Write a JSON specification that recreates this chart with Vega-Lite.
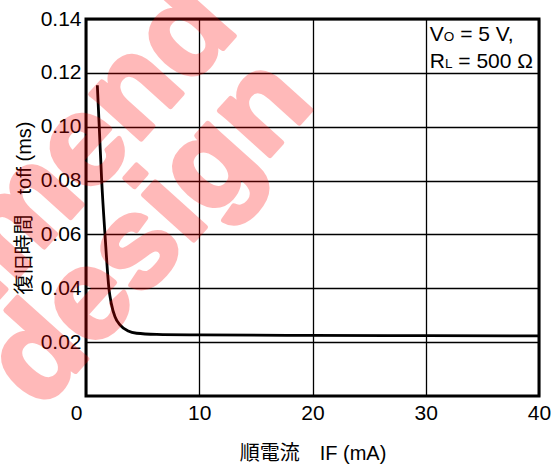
{
  "$schema": "https://vega.github.io/schema/vega-lite/v6.json",
  "width": 453,
  "height": 377,
  "autosize": {"type": "none"},
  "padding": {"left": 86, "top": 19, "right": 13, "bottom": 72},
  "background": "white",
  "config": {
    "view": {"stroke": "black", "strokeWidth": 3},
    "axis": {
      "domain": false,
      "ticks": false,
      "grid": true,
      "gridColor": "black",
      "gridWidth": 1.3,
      "gridOpacity": 1,
      "labelFont": "Liberation Sans",
      "labelFontSize": 21,
      "labelColor": "black",
      "titleFont": "Liberation Sans, Noto Sans CJK JP",
      "titleFontSize": 20,
      "titleFontWeight": "normal",
      "titleColor": "black"
    },
    "text": {"font": "Liberation Sans"}
  },
  "layer": [
    {
      "data": {
        "values": [
          {"IF": 1.0, "toff": 0.1154},
          {"IF": 1.17, "toff": 0.1},
          {"IF": 1.39, "toff": 0.0796},
          {"IF": 1.68, "toff": 0.0598},
          {"IF": 2.03, "toff": 0.0397},
          {"IF": 2.23, "toff": 0.0344},
          {"IF": 2.56, "toff": 0.0294},
          {"IF": 3.0, "toff": 0.0264},
          {"IF": 3.73, "toff": 0.0241},
          {"IF": 4.47, "toff": 0.0233},
          {"IF": 6.24, "toff": 0.0229},
          {"IF": 10, "toff": 0.0227},
          {"IF": 20, "toff": 0.0225},
          {"IF": 30, "toff": 0.0224},
          {"IF": 40, "toff": 0.0223}
        ]
      },
      "mark": {"type": "line", "color": "black", "strokeWidth": 2.8, "interpolate": "monotone"},
      "encoding": {
        "x": {
          "field": "IF",
          "type": "quantitative",
          "scale": {"domain": [0, 40], "nice": false},
          "axis": {
            "values": [0, 10, 20, 30, 40],
            "labelPadding": 6,
            "labelFlush": false,
            "labelOffset": {"condition": {"test": "datum.value === 0", "value": -10}, "value": 0},
            "title": "順電流　IF (mA)",
            "titlePadding": 20
          }
        },
        "y": {
          "field": "toff",
          "type": "quantitative",
          "scale": {"domain": [0, 0.14], "nice": false},
          "axis": {
            "values": [0.02, 0.04, 0.06, 0.08, 0.1, 0.12, 0.14],
            "format": ".2f",
            "labelPadding": 5,
            "title": "復旧時間　toff (ms)",
            "titlePadding": 6
          }
        }
      }
    },
    {
      "data": {"values": [{"x": 30.36, "y": 0.132, "t": "V"}, {"x": 30.36, "y": 0.1217, "t": "R"}]},
      "mark": {"type": "text", "align": "left", "baseline": "alphabetic", "fontSize": 21, "color": "black"},
      "encoding": {"x": {"field": "x", "type": "quantitative"}, "y": {"field": "y", "type": "quantitative"}, "text": {"field": "t"}}
    },
    {
      "data": {"values": [{"x": 30.36, "y": 0.132, "t": "O"}]},
      "mark": {"type": "text", "align": "left", "baseline": "alphabetic", "fontSize": 13.5, "dx": 14, "color": "black"},
      "encoding": {"x": {"field": "x", "type": "quantitative"}, "y": {"field": "y", "type": "quantitative"}, "text": {"field": "t"}}
    },
    {
      "data": {"values": [{"x": 30.36, "y": 0.1217, "t": "L"}]},
      "mark": {"type": "text", "align": "left", "baseline": "alphabetic", "fontSize": 13.5, "dx": 15.2, "color": "black"},
      "encoding": {"x": {"field": "x", "type": "quantitative"}, "y": {"field": "y", "type": "quantitative"}, "text": {"field": "t"}}
    },
    {
      "data": {"values": [{"x": 30.36, "y": 0.132, "t": "= 5 V,"}]},
      "mark": {"type": "text", "align": "left", "baseline": "alphabetic", "fontSize": 21, "dx": 30.3, "color": "black"},
      "encoding": {"x": {"field": "x", "type": "quantitative"}, "y": {"field": "y", "type": "quantitative"}, "text": {"field": "t"}}
    },
    {
      "data": {"values": [{"x": 30.36, "y": 0.1217, "t": "= 500 Ω"}]},
      "mark": {"type": "text", "align": "left", "baseline": "alphabetic", "fontSize": 21, "dx": 28.5, "color": "black"},
      "encoding": {"x": {"field": "x", "type": "quantitative"}, "y": {"field": "y", "type": "quantitative"}, "text": {"field": "t"}}
    },
    {
      "data": {"values": [{"x": 5.65, "y": 0.0609, "w": "design"}]},
      "mark": {"type": "text", "align": "center", "baseline": "middle", "angle": -48, "fontSize": 128, "fontWeight": "bold", "fill": "#ff0000", "stroke": "#ff0000", "strokeWidth": 5, "strokeJoin": "round", "opacity": 0.27},
      "encoding": {"x": {"field": "x", "type": "quantitative"}, "y": {"field": "y", "type": "quantitative"}, "text": {"field": "w"}}
    },
    {
      "data": {"values": [{"x": 11.1, "y": 0.1455, "w": "recommend"}]},
      "mark": {"type": "text", "align": "right", "baseline": "middle", "angle": -48, "fontSize": 128, "fontWeight": "bold", "fill": "#ff0000", "stroke": "#ff0000", "strokeWidth": 5, "strokeJoin": "round", "opacity": 0.27},
      "encoding": {"x": {"field": "x", "type": "quantitative"}, "y": {"field": "y", "type": "quantitative"}, "text": {"field": "w"}}
    }
  ]
}
